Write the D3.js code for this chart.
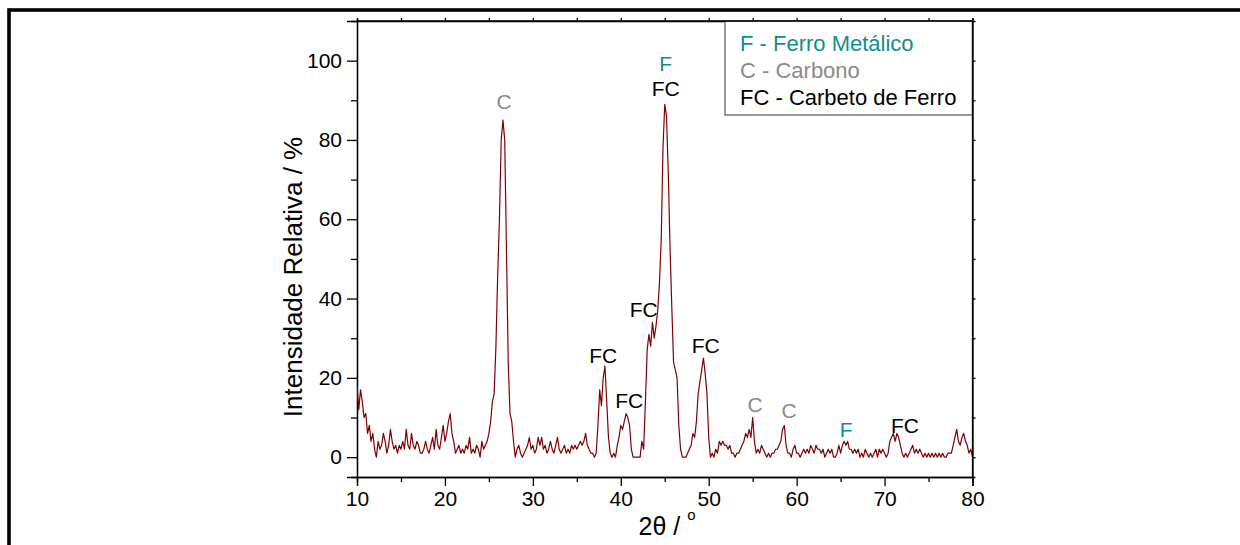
<!DOCTYPE html>
<html>
<head>
<meta charset="utf-8">
<script src="https://cdn.jsdelivr.net/npm/d3@7"></script>
<style>
  html, body { margin: 0; padding: 0; background: #fff; }
  svg { display: block; font-family: "Liberation Sans", Arial, sans-serif; }
</style>
</head>
<body>
<svg id="chart" width="1240" height="545"></svg>
<script>
// XRD pattern: scan from 10° to 80° (2θ), recorded every 0.2°
const startAngle = 10;
const angleStep = 0.2;
const intensity = [
  18, 12, 17, 14, 10,   11, 6, 8, 4, 6,
  2, 0, 4, 2, 3,        6, 4, 1, 3, 7,
  4, 2, 3, 1, 3,        2, 4, 2, 7, 3,
  2, 6, 3, 2, 4,        3, 1, 1, 2, 4,
  2, 1, 3, 5, 2,        7, 3, 2, 5, 8,
  4, 6, 9, 11, 6,       4, 1, 2, 3, 1,
  2, 1, 3, 2, 5,        1, 2, 1, 3, 2,
  0, 4, 2, 3, 4,        6, 9, 14, 16, 28,
  46, 60, 80, 85, 80,   52, 24, 11, 9, 4,
  0, 2, 3, 1, 0,        1, 2, 3, 5, 2,
  3, 1, 2, 5, 3,        5, 2, 3, 1, 2,
  4, 2, 1, 3, 5,        2, 1, 2, 3, 1,
  2, 1, 3, 2, 3,        2, 3, 4, 3, 4,
  6, 3, 2, 1, 1,        0, 1, 8, 17, 13,
  20, 23, 14, 5, 1,     0, 1, 0, 3, 5,
  8, 7, 9, 11, 10,      8, 2, 0, 0, 0,
  0, 0, 4, 2, 14,       27, 31, 28, 34, 30,
  33, 37, 44, 55, 78,   89, 86, 72, 53, 38,
  24, 22, 20, 8, 2,     0, 0, 0, 1, 2,
  3, 6, 5, 9, 16,       19, 22, 25, 21, 16,
  5, 0, 1, 0, 2,        1, 4, 3, 4, 3,
  3, 2, 3, 1, 1,        0, 1, 1, 2, 3,
  4, 6, 5, 7, 5,        10, 4, 1, 2, 1,
  3, 2, 1, 0, 1,        0, 1, 1, 2, 2,
  3, 4, 7, 8, 3,        1, 1, 0, 2, 3,
  1, 1, 0, 1, 2,        1, 2, 1, 3, 2,
  1, 3, 2, 2, 1,        2, 0, 1, 2, 1,
  2, 0, 0, 1, 3,        1, 3, 4, 3, 4,
  2, 2, 1, 2, 1,        2, 0, 1, 0, 2,
  1, 0, 1, 0, 1,        2, 0, 2, 1, 2,
  1, 0, 1, 4, 5,        6, 4, 6, 5, 3,
  1, 0, 1, 0, 1,        2, 3, 1, 2, 1,
  2, 1, 0, 1, 0,        1, 0, 1, 0, 1,
  0, 1, 0, 1, 0,        0, 1, 1, 1, 3,
  5, 7, 4, 3, 5,        6, 4, 3, 1, 2,
  0
];

// Axis ticks
const xTicks = [10, 20, 30, 40, 50, 60, 70, 80];
const xMinorTicks = [15, 25, 35, 45, 55, 65, 75];
const yTicks = [0, 20, 40, 60, 80, 100];
const yMinorTicks = [10, 30, 50, 70, 90];

// Phase identification of the peaks
const peakLabels = ["C", "F", "FC", "FC", "FC", "FC", "FC", "C", "C", "F", "FC"];
const peakAngles = [26.74, 45.1, 45.1, 38.0, 40.95, 42.6, 49.65, 55.28, 59.14, 65.62, 72.33];
const peakLevels = [87.7, 97.5, 91.2, 23.7, 12.5, 35.3, 26.2, 11.5, 9.95, 5.0, 6.0];

// Legend entries
const legendCodes = ["F", "C", "FC"];
const legendNames = ["F - Ferro Metálico", "C - Carbono", "FC - Carbeto de Ferro"];
const phaseColors = { F: "#138d89", C: "#8a8a8a", FC: "#000000" };

const svg = d3.select("#chart");

// Outer frame
svg.append("rect")
  .attr("x", 9).attr("y", 10)
  .attr("width", 1240).attr("height", 600)
  .attr("fill", "none").attr("stroke", "#000").attr("stroke-width", 3.6);

const plot = { left: 357, right: 972.5, top: 21, bottom: 477 };

const x = d3.scaleLinear().domain([10, 80]).range([plot.left, plot.right]);
const y = d3.scaleLinear().domain([-5, 110]).range([plot.bottom, plot.top]);

const points = intensity.map((v, i) => [startAngle + i * angleStep, v]);

// Axes: labelled major ticks, shorter minor ticks
function styleAxis(g) {
  g.selectAll("path.domain").attr("stroke", "#000").attr("stroke-width", 1.3);
  g.selectAll(".tick line").attr("stroke", "#000").attr("stroke-width", 1.3);
  g.selectAll(".tick text").attr("fill", "#000").attr("font-size", 21)
    .attr("font-family", "Liberation Sans, Arial, sans-serif");
}

const xAxis = svg.append("g")
  .attr("transform", `translate(0,${plot.bottom})`)
  .call(d3.axisBottom(x).tickValues(xTicks).tickSizeOuter(0).tickSize(9).tickPadding(5).tickFormat(d3.format("d")));
styleAxis(xAxis);

svg.append("g")
  .attr("transform", `translate(0,${plot.bottom})`)
  .call(d3.axisBottom(x).tickValues(xMinorTicks).tickSizeOuter(0).tickSize(5).tickFormat(""))
  .call(styleAxis);

const yAxis = svg.append("g")
  .attr("transform", `translate(${plot.left},0)`)
  .call(d3.axisLeft(y).tickValues(yTicks).tickSizeOuter(0).tickSize(10).tickPadding(5).tickFormat(d3.format("d")));
styleAxis(yAxis);

svg.append("g")
  .attr("transform", `translate(${plot.left},0)`)
  .call(d3.axisLeft(y).tickValues(yMinorTicks).tickSizeOuter(0).tickSize(6).tickFormat(""))
  .call(styleAxis);

// Top and right frame axes with small outward ticks
svg.append("g")
  .attr("transform", `translate(0,${plot.top})`)
  .call(d3.axisTop(x).tickValues(xTicks.concat(xMinorTicks)).tickSizeOuter(0).tickSize(3).tickFormat(""))
  .call(styleAxis);

svg.append("g")
  .attr("transform", `translate(${plot.right},0)`)
  .call(d3.axisRight(y).tickValues(yTicks.concat(yMinorTicks)).tickSizeOuter(0).tickSize(3).tickFormat(""))
  .call(styleAxis);

// Diffraction pattern
const clipId = "plot-clip";
svg.append("clipPath").attr("id", clipId)
  .append("rect")
  .attr("x", plot.left).attr("y", plot.top)
  .attr("width", plot.right - plot.left).attr("height", plot.bottom - plot.top);

svg.append("path")
  .datum(points)
  .attr("clip-path", `url(#${clipId})`)
  .attr("fill", "none")
  .attr("stroke", "#7f0000")
  .attr("stroke-width", 1.2)
  .attr("stroke-linejoin", "round")
  .attr("d", d3.line().x(d => x(d[0])).y(d => y(d[1])));

// Peak labels
svg.append("g").selectAll("text")
  .data(peakLabels.map((t, i) => ({ t, a: peakAngles[i], v: peakLevels[i] })))
  .join("text")
  .attr("x", d => x(d.a))
  .attr("y", d => y(d.v))
  .attr("text-anchor", "middle")
  .attr("font-size", 21)
  .attr("fill", d => phaseColors[d.t])
  .text(d => d.t);

// Legend box
const legend = svg.append("g");
legend.append("rect")
  .attr("x", 725).attr("y", plot.top)
  .attr("width", plot.right - 725).attr("height", 94)
  .attr("fill", "#fff").attr("stroke", "#555").attr("stroke-width", 1.2);
legend.selectAll("text")
  .data(legendNames)
  .join("text")
  .attr("x", 740)
  .attr("y", (d, i) => 50.5 + i * 27.3)
  .attr("font-size", 22)
  .attr("fill", (d, i) => phaseColors[legendCodes[i]])
  .text(d => d);

// Redraw right/top frame lines over the legend
svg.append("line")
  .attr("x1", plot.right).attr("x2", plot.right)
  .attr("y1", plot.top).attr("y2", plot.bottom)
  .attr("stroke", "#000").attr("stroke-width", 1.3);
svg.append("line")
  .attr("x1", plot.left).attr("x2", plot.right)
  .attr("y1", plot.top).attr("y2", plot.top)
  .attr("stroke", "#000").attr("stroke-width", 1.3);

// Axis titles
svg.append("text")
  .attr("transform", `translate(302,277) rotate(-90)`)
  .attr("text-anchor", "middle")
  .attr("font-size", 26)
  .attr("fill", "#000")
  .text("Intensidade Relativa / %");

const xTitle = svg.append("text")
  .attr("x", 667).attr("y", 535)
  .attr("text-anchor", "middle")
  .attr("font-size", 25)
  .attr("fill", "#000");
xTitle.append("tspan").text("2θ / ");
xTitle.append("tspan").attr("font-size", 15).attr("dy", -15).text("o");
</script>
</body>
</html>
